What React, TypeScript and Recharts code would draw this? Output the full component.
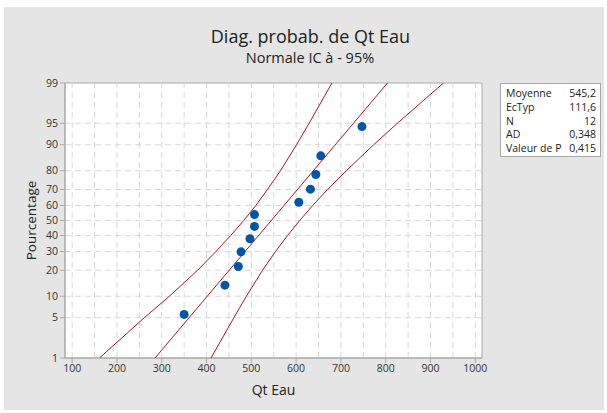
import { ComposedChart, Scatter, XAxis, YAxis, CartesianGrid, ReferenceLine, ReferenceArea, Label } from "recharts"

// probability levels (percent) of the y axis
const pctTicks = [1, 5, 10, 20, 30, 40, 50, 60, 70, 80, 90, 95, 99]
const xTicks = [100, 200, 300, 400, 500, 600, 700, 800, 900, 1000]
const xGrid = [100, 150, 200, 250, 300, 350, 400, 450, 500, 550, 600, 650, 700, 750, 800, 850, 900, 950, 1000]

// observations (Qt Eau) and their plotted percentages
const obsQtEau = [350, 441, 471, 477, 497, 507, 507, 606, 632, 644, 655, 747]
const obsPct = [5.6, 13.7, 21.8, 29.8, 37.9, 46.0, 54.0, 62.1, 70.2, 78.2, 86.3, 94.4]

// fitted line
const fitQtEau = [285, 804]
const fitPct = [1, 99]

// confidence band, read at the tick levels
const ciPct = [1, 5, 10, 20, 30, 40, 50, 60, 70, 80, 90, 95, 99]
const ciLowQtEau = [161, 261, 317, 380, 421, 454, 483, 510, 536, 565, 601, 629, 680]
const ciHighQtEau = [410, 461, 489, 525, 554, 581, 608, 637, 670, 712, 773, 826, 929]

const stats = [
  ["Moyenne", "545,2"],
  ["EcTyp", "111,6"],
  ["N", "12"],
  ["AD", "0,348"],
  ["Valeur de P", "0,415"],
]

// inverse normal cdf (Acklam) -> probability scale
function probit(p: number) {
  const a = [-39.69683028665376, 220.9460984245205, -275.9285104469687, 138.357751867269, -30.66479806614716, 2.506628277459239]
  const b = [-54.47609879822406, 161.5858368580409, -155.6989798598866, 66.80131188771972, -13.28068155288572]
  const c = [-0.007784894002430293, -0.3223964580411365, -2.400758277161838, -2.549732539343734, 4.374664141464968, 2.938163982698783]
  const d = [0.007784695709041462, 0.3224671290700398, 2.445134137142996, 3.754408661907416]
  const pl = 0.02425
  if (p < pl) {
    const q = Math.sqrt(-2 * Math.log(p))
    return (((((c[0] * q + c[1]) * q + c[2]) * q + c[3]) * q + c[4]) * q + c[5]) / ((((d[0] * q + d[1]) * q + d[2]) * q + d[3]) * q + 1)
  }
  if (p > 1 - pl) {
    const q = Math.sqrt(-2 * Math.log(1 - p))
    return -(((((c[0] * q + c[1]) * q + c[2]) * q + c[3]) * q + c[4]) * q + c[5]) / ((((d[0] * q + d[1]) * q + d[2]) * q + d[3]) * q + 1)
  }
  const q = p - 0.5
  const r = q * q
  return ((((((a[0] * r + a[1]) * r + a[2]) * r + a[3]) * r + a[4]) * r + a[5]) * q) / (((((b[0] * r + b[1]) * r + b[2]) * r + b[3]) * r + b[4]) * r + 1)
}

const toZ = (pct: number) => probit(pct / 100)

const points = obsQtEau.map((x, i) => ({ x, z: toZ(obsPct[i]) }))
const fitLine = fitQtEau.map((x, i) => ({ x, z: toZ(fitPct[i]) }))
const ciLow = ciLowQtEau.map((x, i) => ({ x, z: toZ(ciPct[i]) }))
const ciHigh = ciHighQtEau.map((x, i) => ({ x, z: toZ(ciPct[i]) }))

const yTickZ = pctTicks.map(toZ)
const zMin = toZ(1)
const zMax = toZ(99)

const font = "'Open Sans', 'Noto Sans', sans-serif"
const frame = "#a8a8a8"
const gridColor = "#d8d8d8"
const red = "#a01c1c"
const blue = "#0455a6"

const pctLabel = (z: number) => {
  let best = 0
  yTickZ.forEach((t, i) => {
    if (Math.abs(t - z) < Math.abs(yTickZ[best] - z)) best = i
  })
  return String(pctTicks[best])
}

const noShape = () => <g />

export default function App() {
  return (
    <div style={{ position: "absolute", left: 0, top: 0, width: 607, height: 413, background: "#fff", fontFamily: font }}>
      <div style={{ position: "absolute", left: 4, top: 7, width: 600, height: 403, background: "#e5e5e5" }} />
      <div style={{ position: "absolute", left: 0, top: 24, width: 621, textAlign: "center", fontSize: 18, color: "#222" }}>
        Diag. probab. de Qt Eau
      </div>
      <div style={{ position: "absolute", left: 0, top: 48, width: 620, textAlign: "center", fontSize: 14.5, color: "#222" }}>
        Normale IC à - 95%
      </div>
      <div style={{ position: "absolute", left: 0, top: 0 }}>
        <ComposedChart width={607} height={413} margin={{ top: 83, right: 125, bottom: 0, left: 0 }}>
          <CartesianGrid fill="#fff" horizontal={false} vertical={false} />
          {pctTicks.slice(1, -1).map((p) => (
            <ReferenceLine key={"h" + p} y={toZ(p)} stroke={gridColor} strokeDasharray="6 4" />
          ))}
          {xGrid.map((v) => (
            <ReferenceLine key={"v" + v} x={v} stroke={gridColor} strokeDasharray="6 4" />
          ))}
          <XAxis
            type="number"
            dataKey="x"
            domain={[84, 1015]}
            allowDataOverflow
            ticks={xTicks}
            interval={0}
            height={55}
            tickSize={5}
            stroke={frame}
            tick={{ fill: "#333", fontSize: 10.5, fontFamily: font }}
          >
            <Label value="Qt Eau" position="insideBottom" offset={18} fill="#222" fontSize={14} fontFamily={font} />
          </XAxis>
          <YAxis
            type="number"
            dataKey="z"
            domain={[zMin, zMax]}
            allowDataOverflow
            ticks={yTickZ}
            interval={0}
            tickFormatter={pctLabel}
            width={65}
            tickSize={5}
            stroke={frame}
            tick={{ fill: "#333", fontSize: 10.5, fontFamily: font }}
          >
            <Label value="Pourcentage" angle={-90} position="insideLeft" offset={31} fill="#222" fontSize={13.5} fontFamily={font} style={{ textAnchor: "middle" }} />
          </YAxis>
          <Scatter data={ciLow} line={{ stroke: red, strokeWidth: 1 }} shape={noShape} isAnimationActive={false} />
          <Scatter data={ciHigh} line={{ stroke: red, strokeWidth: 1 }} shape={noShape} isAnimationActive={false} />
          <Scatter data={fitLine} line={{ stroke: red, strokeWidth: 1 }} shape={noShape} isAnimationActive={false} />
          <Scatter data={points} fill={blue} isAnimationActive={false} shape={(p: any) => <circle cx={p.cx} cy={p.cy} r={4.5} fill={blue} />} />
          <ReferenceArea x1={84} x2={1015} y1={zMin} y2={zMax} fill="none" stroke={frame} strokeOpacity={1} />
        </ComposedChart>
      </div>
      <div
        style={{
          position: "absolute",
          left: 500,
          top: 83,
          width: 101,
          height: 74,
          background: "#fff",
          border: "1px solid " + frame,
          fontSize: 10.5,
          color: "#222",
          padding: "3px 4px 0 5px",
          boxSizing: "border-box",
        }}
      >
        {stats.map(([k, v]) => (
          <div key={k} style={{ display: "flex", justifyContent: "space-between", lineHeight: "13.8px" }}>
            <span>{k}</span>
            <span>{v}</span>
          </div>
        ))}
      </div>
    </div>
  )
}
